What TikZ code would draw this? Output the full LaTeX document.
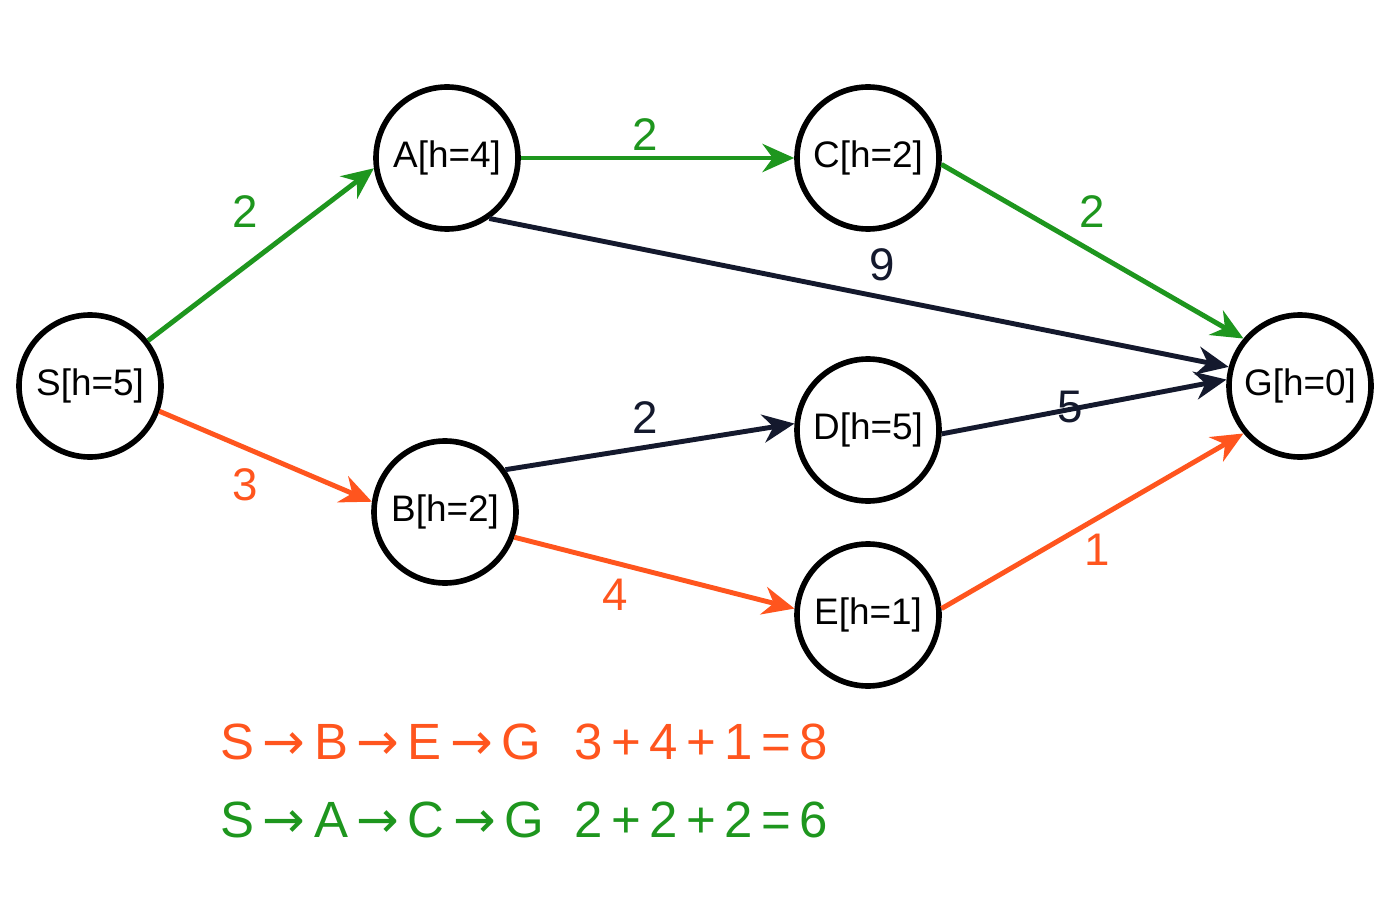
\documentclass[tikz,border=0pt]{standalone}
\usepackage{fontspec}
\setmainfont{Liberation Sans}
\newfontfamily\arrowfont{DejaVu Sans}
\usetikzlibrary{arrows.meta}
\definecolor{pathgreen}{RGB}{30,150,30}
\definecolor{pathorange}{RGB}{255,85,30}
\definecolor{edgedark}{RGB}{20,25,45}
\newcommand{\ra}{{\arrowfont\,→\,}}

\begin{document}
\begin{tikzpicture}[
    state/.style={circle, draw=black, line width=1.6pt, minimum size=1.42cm, inner sep=0pt, font=\fontsize{10.5}{12}\selectfont},
    edge/.style={line width=1.4pt, -{Stealth[length=9pt,width=8pt]}},
    wt/.style={font=\fontsize{13}{15}\selectfont},
    route/.style={anchor=west, font=\fontsize{14.5}{17}\selectfont}
  ]
    \useasboundingbox (0,0) rectangle (14,9);

    \node [state] (S) at (0.9, 5.14) {S[h=5]};
    \node [state] (A) at (4.47, 7.42) {A[h=4]};
    \node [state] (C) at (8.68, 7.42) {C[h=2]};
    \node [state] (G) at (13.0, 5.14) {G[h=0]};
    \node [state] (D) at (8.68, 4.70) {D[h=5]};
    \node [state] (B) at (4.45, 3.88) {B[h=2]};
    \node [state] (E) at (8.68, 2.85) {E[h=1]};

    % best path (green)
    \draw [edge, pathgreen] (S.38) -- (A.188);
    \draw [edge, pathgreen] (A.0) -- (C.180);
    \draw [edge, pathgreen] (C.-5) -- (G.140);
    % greedy path (orange)
    \draw [edge, pathorange] (S.-20) -- (B.172);
    \draw [edge, pathorange] (B.-20) -- (E.175);
    \draw [edge, pathorange] (E.5) -- (G.-140);
    % other edges
    \draw [edge, edgedark] (A.-55) -- (G.165);
    \draw [edge, edgedark] (B.35) -- (D.175);
    \draw [edge, edgedark] (D.-3) -- (G.175);

    \node [wt, pathgreen] (wSA) at (2.45, 6.88) {2};
    \node [wt, pathgreen] (wAC) at (6.45, 7.65) {2};
    \node [wt, pathgreen] (wCG) at (10.92, 6.88) {2};
    \node [wt, edgedark] (wAG) at (8.82, 6.35) {9};
    \node [wt, pathorange] (wSB) at (2.45, 4.15) {3};
    \node [wt, edgedark] (wBD) at (6.45, 4.82) {2};
    \node [wt, edgedark] (wDG) at (10.70, 4.93) {5};
    \node [wt, pathorange] (wBE) at (6.15, 3.05) {4};
    \node [wt, pathorange] (wEG) at (10.97, 3.50) {1};

    \node [route, pathorange] (r1) at (2.08, 1.58) {S\ra B\ra E\ra G};
    \node [route, pathorange] (c1) at (5.62, 1.58) {3\,+\,4\,+\,1\,=\,8};
    \node [route, pathgreen] (r2) at (2.08, 0.80) {S\ra A\ra C\ra G};
    \node [route, pathgreen] (c2) at (5.62, 0.80) {2\,+\,2\,+\,2\,=\,6};
\end{tikzpicture}
\end{document}
